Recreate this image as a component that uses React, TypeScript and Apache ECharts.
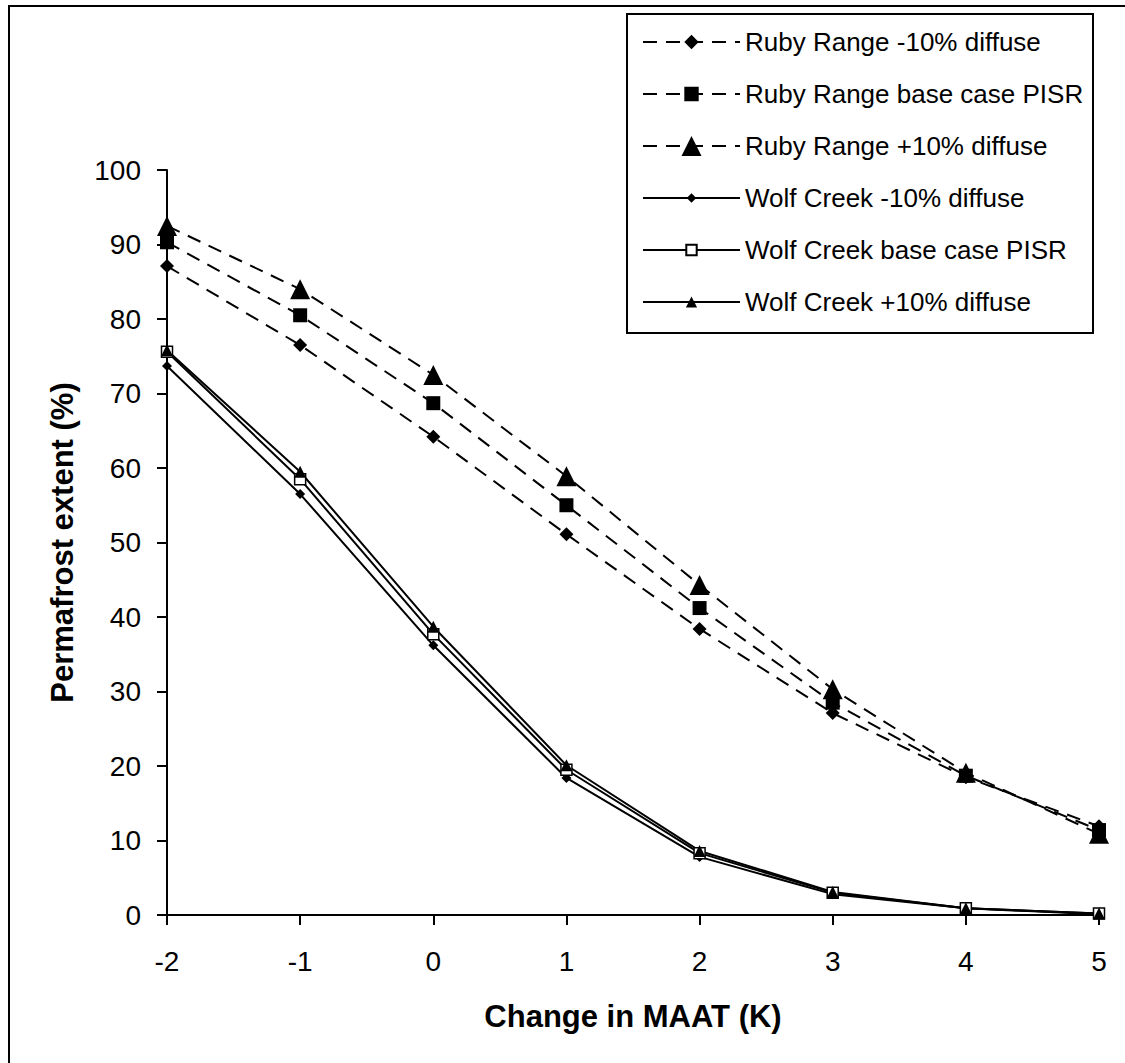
import React, { useEffect, useRef } from "react";
import * as echarts from "echarts";

const xValues = [-2, -1, 0, 1, 2, 3, 4, 5];
const rubyMinus = [87.1, 76.5, 64.2, 51.1, 38.4, 27.1, 18.5, 11.9];
const rubyBase = [90.3, 80.5, 68.7, 55.0, 41.2, 28.5, 18.7, 11.4];
const rubyPlus = [92.5, 84.0, 72.5, 58.9, 44.3, 30.3, 19.1, 10.9];
const wolfMinus = [73.7, 56.5, 36.2, 18.4, 7.8, 2.8, 0.9, 0.1];
const wolfBase = [75.6, 58.5, 37.7, 19.5, 8.3, 3.0, 0.9, 0.2];
const wolfPlus = [75.8, 59.5, 38.7, 20.1, 8.6, 3.1, 0.9, 0.2];

const seriesNames = [
  "Ruby Range -10% diffuse",
  "Ruby Range base case PISR",
  "Ruby Range +10% diffuse",
  "Wolf Creek -10% diffuse",
  "Wolf Creek base case PISR",
  "Wolf Creek +10% diffuse",
];

const FONT = "Liberation Sans, Arial, sans-serif";

export default function App() {
  const ref = useRef<HTMLDivElement>(null);
  useEffect(() => {
    document.body.style.margin = "0";
    const chart = echarts.init(ref.current!, null, { renderer: "svg" });
    const pair = (ys: number[]) => xValues.map((x, i) => [x, ys[i]]);
    const specs = [
      { data: rubyMinus, symbol: "diamond", size: 14, dashed: true, fill: "#000", legendH: 18 },
      { data: rubyBase, symbol: "rect", size: 14, dashed: true, fill: "#000", legendH: 18 },
      { data: rubyPlus, symbol: "triangle", size: 20, dashed: true, fill: "#000", legendH: 25 },
      { data: wolfMinus, symbol: "diamond", size: 10, dashed: false, fill: "#000", legendH: 12 },
      { data: wolfBase, symbol: "rect", size: 11, dashed: false, fill: "#fff", legendH: 13 },
      { data: wolfPlus, symbol: "triangle", size: 12, dashed: false, fill: "#000", legendH: 14 },
    ];
    const rowCenters = [42, 94, 146, 198, 250, 302];
    const series = specs.map((s, i) => ({
      name: seriesNames[i],
      type: "line",
      data: pair(s.data),
      symbol: s.symbol,
      symbolSize: s.size,
      lineStyle: { color: "#000", width: 2, type: s.dashed ? [14, 9] : "solid" },
      itemStyle: { color: s.fill, borderColor: "#000", borderWidth: s.fill === "#fff" ? 1.5 : 0 },
      z: 3,
    }));
    const legends = specs.map((s, i) => ({
      show: true,
      data: [seriesNames[i]],
      left: 642,
      top: rowCenters[i] - 13,
      padding: 0,
      itemWidth: 97,
      itemHeight: s.legendH,
      textStyle: { fontFamily: FONT, fontSize: 26, color: "#000" },
      selectedMode: false,
    }));
    chart.setOption({
      animation: false,
      backgroundColor: "#fff",
      grid: { left: 167, right: 26, top: 170, bottom: 148, containLabel: false },
      legend: legends,
      xAxis: {
        type: "value",
        min: -2,
        max: 5,
        interval: 1,
        name: "Change in MAAT (K)",
        nameLocation: "middle",
        nameGap: 86,
        nameTextStyle: { fontFamily: FONT, fontSize: 31, fontWeight: "bold", color: "#000" },
        axisLine: { show: true, onZero: false, lineStyle: { color: "#000", width: 2 } },
        axisTick: { show: true, length: 10, inside: false, lineStyle: { color: "#000", width: 2 } },
        axisLabel: { fontFamily: FONT, fontSize: 28, color: "#000", margin: 32 },
        splitLine: { show: false },
      },
      yAxis: {
        type: "value",
        min: 0,
        max: 100,
        interval: 10,
        name: "Permafrost extent (%)",
        nameLocation: "middle",
        nameGap: 89,
        nameTextStyle: { fontFamily: FONT, fontSize: 31, fontWeight: "bold", color: "#000" },
        axisLine: { show: true, onZero: false, lineStyle: { color: "#000", width: 2 } },
        axisTick: { show: true, length: 10, inside: false, lineStyle: { color: "#000", width: 2 } },
        axisLabel: { fontFamily: FONT, fontSize: 28, color: "#000", margin: 26 },
        splitLine: { show: false },
      },
      graphic: [
        {
          type: "rect",
          shape: { x: 9, y: 6, width: 1300, height: 1300 },
          style: { fill: "none", stroke: "#000", lineWidth: 2 },
          silent: true,
          z: -10,
        },
        {
          type: "rect",
          shape: { x: 627, y: 14, width: 466, height: 319 },
          style: { fill: "none", stroke: "#000", lineWidth: 2 },
          silent: true,
          z: 10,
        },
      ],
      series,
    });
    return () => chart.dispose();
  }, []);
  return <div ref={ref} style={{ width: 1125, height: 1063 }} />;
}
